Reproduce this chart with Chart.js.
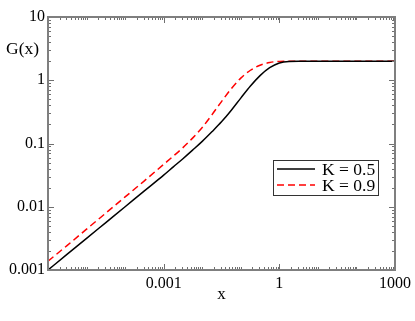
<!DOCTYPE html>
<html>
<head>
<meta charset="utf-8">
<script src="https://cdn.jsdelivr.net/npm/chart.js@4/dist/chart.umd.min.js"></script>
<style>
html,body{margin:0;padding:0;background:#fff;}
#wrap{width:415px;height:321px;position:relative;}
</style>
</head>
<body>
<div id="wrap"><canvas id="c" width="415" height="321"></canvas></div>
<script>
// ---- data ----
const xValues = [1e-6, 3.16e-6, 1e-5, 3.16e-5, 1e-4, 3.16e-4, 1e-3, 1.78e-3, 3.16e-3, 5.62e-3, 0.01, 0.0178, 0.0316, 0.0562, 0.1, 0.178, 0.316, 0.562, 1, 1.78, 3.16, 10, 100, 1000];
const seriesK05 = [0.001, 0.00178, 0.00316, 0.00562, 0.01, 0.0178, 0.0316, 0.0427, 0.0575, 0.0785, 0.108, 0.153, 0.220, 0.333, 0.522, 0.809, 1.183, 1.578, 1.875, 1.986, 2.0, 2.0, 2.0, 2.0];
const seriesK09 = [0.00138, 0.00245, 0.00442, 0.00794, 0.0143, 0.0257, 0.0468, 0.0631, 0.0861, 0.1216, 0.179, 0.284, 0.460, 0.730, 1.079, 1.439, 1.730, 1.910, 1.988, 2.0, 2.0, 2.0, 2.0, 2.0];
const seriesLabels = ["K = 0.5", "K = 0.9"];
const xTickValues = [0.001, 1, 1000];
const xTickLabels = ["0.001", "1", "1000"];
const yTickValues = [0.001, 0.01, 0.1, 1, 10];
const yTickLabels = ["0.001", "0.01", "0.1", "1", "10"];

const FONT = "'Liberation Serif', 'DejaVu Serif', serif";

function pts(ys){ return xValues.map((x,i)=>({x:x, y:ys[i]})); }

const framePlugin = {
  id: 'frame',
  afterDraw(chart){
    const ctx = chart.ctx, a = chart.chartArea;
    const xs = chart.scales.x, ys = chart.scales.y;
    ctx.save();
    ctx.setLineDash([]);
    ctx.strokeStyle = '#6f6f6f';
    ctx.lineWidth = 1;
    ctx.beginPath();
    // x ticks (top and bottom), inward
    for (let e = -6; e <= 3; e++) {
      for (let m = 1; m <= 9; m++) {
        const v = m * Math.pow(10, e);
        if (v < 0.9e-6 || v > 1001) continue;
        const px = Math.round(xs.getPixelForValue(v)) + 0.5;
        const major = (m === 1 && ((e % 3) + 3) % 3 === 0);
        const len = major ? 6 : 3;
        ctx.moveTo(px, a.bottom); ctx.lineTo(px, a.bottom - len);
        ctx.moveTo(px, a.top); ctx.lineTo(px, a.top + len);
      }
    }
    // y ticks (left and right), inward
    for (let e = -3; e <= 1; e++) {
      for (let m = 1; m <= 9; m++) {
        const v = m * Math.pow(10, e);
        if (v < 0.0009 || v > 10.01) continue;
        const py = Math.round(ys.getPixelForValue(v)) + 0.5;
        const len = m === 1 ? 6 : 3;
        ctx.moveTo(a.left, py); ctx.lineTo(a.left + len, py);
        ctx.moveTo(a.right, py); ctx.lineTo(a.right - len, py);
      }
    }
    ctx.stroke();
    // frame
    ctx.lineWidth = 2;
    ctx.strokeStyle = '#7f7f7f';
    ctx.strokeRect(a.left, a.top, a.right - a.left, a.bottom - a.top);
    // y title
    ctx.fillStyle = '#000';
    ctx.font = "17.5px " + FONT;
    ctx.textAlign = 'left';
    ctx.textBaseline = 'middle';
    ctx.fillText('G(x)', 6, 49);
    // legend
    const lx = a.left + 225, ly = a.top + 143;
    ctx.lineWidth = 1;
    ctx.strokeStyle = '#333';
    ctx.strokeRect(lx + 0.5, ly + 0.5, 105, 35);
    const ds = chart.data.datasets;
    for (let i = 0; i < ds.length; i++) {
      const yy = ly + 9 + i * 16;
      ctx.strokeStyle = ds[i].borderColor;
      ctx.lineWidth = 1.5;
      ctx.setLineDash(ds[i].borderDash || []);
      ctx.beginPath(); ctx.moveTo(lx + 4, yy); ctx.lineTo(lx + 42, yy); ctx.stroke();
      ctx.setLineDash([]);
      ctx.fillStyle = '#000';
      ctx.fillText(seriesLabels[i], lx + 49, yy + 1);
    }
    ctx.restore();
  }
};

new Chart(document.getElementById('c'), {
  type: 'line',
  data: {
    datasets: [
      { label: seriesLabels[0], data: pts(seriesK05), borderColor: '#000000', borderWidth: 1.5, pointRadius: 0, fill: false, cubicInterpolationMode: 'monotone' },
      { label: seriesLabels[1], data: pts(seriesK09), borderColor: '#ff0000', borderWidth: 1.5, borderDash: [7, 4], pointRadius: 0, fill: false, cubicInterpolationMode: 'monotone' }
    ]
  },
  options: {
    responsive: false,
    animation: false,
    layout: { padding: { top: 17, right: 17, left: 0, bottom: 0 } },
    plugins: { legend: { display: false }, tooltip: { enabled: false } },
    scales: {
      x: {
        type: 'logarithmic', min: 1e-6, max: 1000,
        grid: { display: false, drawTicks: false }, border: { display: false },
        afterBuildTicks(s){ s.ticks = xTickValues.map(v => ({ value: v })); },
        afterFit(s){ s.height = 51; },
        ticks: { autoSkip: false, maxRotation: 0, color: '#000', padding: 4,
          font: { family: FONT, size: 16 },
          callback(v){ const i = xTickValues.indexOf(v); return i >= 0 ? xTickLabels[i] : ''; } },
        title: { display: true, text: 'x', color: '#000', font: { family: FONT, size: 17 }, padding: { top: 0, bottom: 16 } }
      },
      y: {
        type: 'logarithmic', min: 0.001, max: 10,
        grid: { display: false, drawTicks: false }, border: { display: false },
        afterBuildTicks(s){ s.ticks = yTickValues.map(v => ({ value: v })); },
        afterFit(s){ s.width = 48; },
        ticks: { autoSkip: false, color: '#000', padding: 3,
          font: { family: FONT, size: 16 },
          callback(v){ const i = yTickValues.findIndex(t => Math.abs(t - v) / t < 1e-6); return i >= 0 ? yTickLabels[i] : ''; } }
      }
    }
  },
  plugins: [framePlugin]
});
</script>
</body>
</html>
